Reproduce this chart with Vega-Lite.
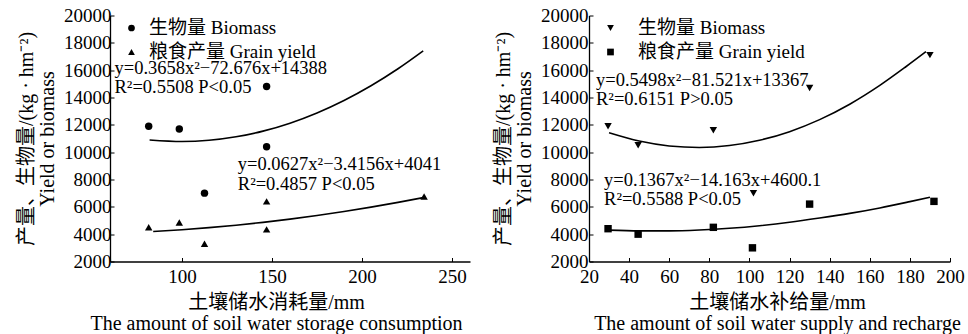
{
  "$schema": "https://vega.github.io/schema/vega-lite/v6.json",
  "background": "white",
  "padding": {"left": 16, "top": 6.5, "right": 2, "bottom": 0},
  "spacing": 23,
  "config": {
    "font": "Liberation Serif, Noto Sans CJK SC",
    "view": {"stroke": null},
    "axis": {
      "grid": false,
      "domainColor": "black",
      "domainWidth": 1.3,
      "tickColor": "black",
      "tickSize": -4,
      "labelColor": "black",
      "labelFont": "Liberation Serif",
      "labelFontSize": 19,
      "labelOverlap": false,
      "labelBound": false,
      "labelFlush": false,
      "titleColor": "black",
      "titleFont": "Liberation Serif, Noto Sans CJK SC",
      "titleFontSize": 20,
      "titleFontWeight": "normal",
      "titleLineHeight": 21
    },
    "legend": {
      "labelFont": "Liberation Serif, Noto Sans CJK SC",
      "labelFontSize": 19,
      "labelColor": "black",
      "labelLimit": 400,
      "symbolFillColor": "black",
      "symbolStrokeColor": "black",
      "rowPadding": 4
    }
  },
  "datasets": {
    "pts": [
      {"panel": "L", "series": "生物量 Biomass", "x": 81.5, "y": 11900},
      {"panel": "L", "series": "生物量 Biomass", "x": 98.5, "y": 11700},
      {"panel": "L", "series": "生物量 Biomass", "x": 112.5, "y": 7000},
      {"panel": "L", "series": "生物量 Biomass", "x": 147, "y": 14800},
      {"panel": "L", "series": "生物量 Biomass", "x": 147, "y": 10400},
      {"panel": "L", "series": "粮食产量 Grain yield", "x": 81.5, "y": 4500},
      {"panel": "L", "series": "粮食产量 Grain yield", "x": 98.5, "y": 4850},
      {"panel": "L", "series": "粮食产量 Grain yield", "x": 112.5, "y": 3300},
      {"panel": "L", "series": "粮食产量 Grain yield", "x": 147, "y": 6400},
      {"panel": "L", "series": "粮食产量 Grain yield", "x": 147, "y": 4350},
      {"panel": "L", "series": "粮食产量 Grain yield", "x": 234.5, "y": 6750},
      {"panel": "R", "series": "生物量 Biomass", "x": 29.5, "y": 11900},
      {"panel": "R", "series": "生物量 Biomass", "x": 44.5, "y": 10500},
      {"panel": "R", "series": "生物量 Biomass", "x": 82, "y": 11600},
      {"panel": "R", "series": "生物量 Biomass", "x": 102, "y": 7000},
      {"panel": "R", "series": "生物量 Biomass", "x": 130, "y": 14700},
      {"panel": "R", "series": "生物量 Biomass", "x": 190, "y": 17100},
      {"panel": "R", "series": "粮食产量 Grain yield", "x": 29.5, "y": 4400},
      {"panel": "R", "series": "粮食产量 Grain yield", "x": 44.5, "y": 4000},
      {"panel": "R", "series": "粮食产量 Grain yield", "x": 82, "y": 4500},
      {"panel": "R", "series": "粮食产量 Grain yield", "x": 101.5, "y": 3000},
      {"panel": "R", "series": "粮食产量 Grain yield", "x": 130, "y": 6200},
      {"panel": "R", "series": "粮食产量 Grain yield", "x": 192, "y": 6400}
    ],
    "curves": [
      {"panel": "L", "curve": "b", "x": 82, "y": 10888},
      {"panel": "L", "curve": "b", "x": 100, "y": 10778},
      {"panel": "L", "curve": "b", "x": 115, "y": 10868},
      {"panel": "L", "curve": "b", "x": 130, "y": 11122},
      {"panel": "L", "curve": "b", "x": 145, "y": 11541},
      {"panel": "L", "curve": "b", "x": 160, "y": 12124},
      {"panel": "L", "curve": "b", "x": 175, "y": 12872},
      {"panel": "L", "curve": "b", "x": 190, "y": 13785},
      {"panel": "L", "curve": "b", "x": 205, "y": 14862},
      {"panel": "L", "curve": "b", "x": 220, "y": 16104},
      {"panel": "L", "curve": "b", "x": 234, "y": 17412},
      {"panel": "L", "curve": "g", "x": 84, "y": 4200},
      {"panel": "L", "curve": "g", "x": 100, "y": 4326},
      {"panel": "L", "curve": "g", "x": 115, "y": 4477},
      {"panel": "L", "curve": "g", "x": 130, "y": 4657},
      {"panel": "L", "curve": "g", "x": 145, "y": 4864},
      {"panel": "L", "curve": "g", "x": 160, "y": 5100},
      {"panel": "L", "curve": "g", "x": 175, "y": 5363},
      {"panel": "L", "curve": "g", "x": 190, "y": 5656},
      {"panel": "L", "curve": "g", "x": 205, "y": 5976},
      {"panel": "L", "curve": "g", "x": 220, "y": 6324},
      {"panel": "L", "curve": "g", "x": 234, "y": 6675},
      {"panel": "R", "curve": "b", "x": 30, "y": 11416},
      {"panel": "R", "curve": "b", "x": 45, "y": 10812},
      {"panel": "R", "curve": "b", "x": 60, "y": 10455},
      {"panel": "R", "curve": "b", "x": 75, "y": 10346},
      {"panel": "R", "curve": "b", "x": 90, "y": 10484},
      {"panel": "R", "curve": "b", "x": 105, "y": 10869},
      {"panel": "R", "curve": "b", "x": 120, "y": 11502},
      {"panel": "R", "curve": "b", "x": 135, "y": 12382},
      {"panel": "R", "curve": "b", "x": 150, "y": 13509},
      {"panel": "R", "curve": "b", "x": 165, "y": 14884},
      {"panel": "R", "curve": "b", "x": 178, "y": 16250},
      {"panel": "R", "curve": "b", "x": 188, "y": 17350},
      {"panel": "R", "curve": "g", "x": 30, "y": 4298},
      {"panel": "R", "curve": "g", "x": 45, "y": 4240},
      {"panel": "R", "curve": "g", "x": 60, "y": 4242},
      {"panel": "R", "curve": "g", "x": 75, "y": 4307},
      {"panel": "R", "curve": "g", "x": 90, "y": 4433},
      {"panel": "R", "curve": "g", "x": 105, "y": 4620},
      {"panel": "R", "curve": "g", "x": 120, "y": 4869},
      {"panel": "R", "curve": "g", "x": 135, "y": 5179},
      {"panel": "R", "curve": "g", "x": 150, "y": 5520},
      {"panel": "R", "curve": "g", "x": 165, "y": 5920},
      {"panel": "R", "curve": "g", "x": 180, "y": 6380},
      {"panel": "R", "curve": "g", "x": 190, "y": 6700}
    ],
    "notes": [
      {"panel": "L", "x": 62.5, "y": 16150, "text": "y=0.3658x²−72.676x+14388"},
      {"panel": "L", "x": 62.5, "y": 14800, "text": "R²=0.5508  P<0.05"},
      {"panel": "L", "x": 131, "y": 9150, "text": "y=0.0627x²−3.4156x+4041"},
      {"panel": "L", "x": 131, "y": 7700, "text": "R²=0.4857  P<0.05"},
      {"panel": "R", "x": 23.5, "y": 15300, "text": "y=0.5498x²−81.521x+13367"},
      {"panel": "R", "x": 23.5, "y": 13900, "text": "R²=0.6151  P>0.05"},
      {"panel": "R", "x": 27.5, "y": 7950, "text": "y=0.1367x²−14.163x+4600.1"},
      {"panel": "R", "x": 27.5, "y": 6600, "text": "R²=0.5588  P<0.05"}
    ]
  },
  "resolve": {"scale": {"shape": "independent", "x": "independent", "y": "independent"}, "legend": {"shape": "independent"}, "axis": {"y": "independent"}},
  "hconcat": [
    {
      "width": 360,
      "height": 246,
      "encoding": {
        "x": {"field": "x", "type": "quantitative", "scale": {"domain": [60, 260], "nice": false, "zero": false},
          "axis": {"values": [100, 150, 200, 250], "title": ["土壤储水消耗量/mm", "The amount of soil water storage consumption"], "labelPadding": 10, "titlePadding": 6, "titleX": 166, "labelOverlap": false}},
        "y": {"field": "y", "type": "quantitative", "scale": {"domain": [2000, 20000], "nice": false, "zero": false},
          "axis": {"values": [2000, 4000, 6000, 8000, 10000, 12000, 14000, 16000, 18000, 20000], "format": "d", "title": ["产量、生物量/(kg · hm⁻²)", "Yield or biomass"], "labelPadding": 3, "titlePadding": 6, "labelOverlap": false}}
      },
      "layer": [
        {
          "data": {"name": "curves"},
          "transform": [{"filter": "datum.panel == 'L'"}],
          "mark": {"type": "line", "color": "black", "strokeWidth": 1.6, "interpolate": "monotone"},
          "encoding": {"detail": {"field": "curve"}}
        },
        {
          "data": {"name": "pts"},
          "transform": [{"filter": "datum.panel == 'L'"}],
          "mark": {"type": "point", "filled": true, "color": "black", "opacity": 1, "size": 55},
          "encoding": {
            "shape": {"field": "series", "type": "nominal",
              "scale": {"domain": ["生物量 Biomass", "粮食产量 Grain yield"], "range": ["circle", "triangle-up"]},
              "legend": {"title": null, "orient": "none", "legendX": 12, "legendY": 3, "symbolSize": 45, "labelOffset": 8}}
          }
        },
        {
          "data": {"name": "notes"},
          "transform": [{"filter": "datum.panel == 'L'"}],
          "mark": {"type": "text", "align": "left", "baseline": "middle", "fontSize": 18.5, "font": "Liberation Serif", "color": "black"},
          "encoding": {"text": {"field": "text"}}
        }
      ]
    },
    {
      "width": 361,
      "height": 246,
      "encoding": {
        "x": {"field": "x", "type": "quantitative", "scale": {"domain": [20, 200], "nice": false, "zero": false},
          "axis": {"values": [20, 40, 60, 80, 100, 120, 140, 160, 180, 200], "title": ["土壤储水补给量/mm", "The amount of soil water supply and recharge"], "labelPadding": 10, "titlePadding": 6, "titleX": 188, "labelOverlap": false}},
        "y": {"field": "y", "type": "quantitative", "scale": {"domain": [2000, 20000], "nice": false, "zero": false},
          "axis": {"values": [2000, 4000, 6000, 8000, 10000, 12000, 14000, 16000, 18000, 20000], "format": "d", "title": ["产量、生物量/(kg · hm⁻²)", "Yield or biomass"], "labelPadding": 5, "titlePadding": 6, "labelOverlap": false}}
      },
      "layer": [
        {
          "data": {"name": "curves"},
          "transform": [{"filter": "datum.panel == 'R'"}],
          "mark": {"type": "line", "color": "black", "strokeWidth": 1.6, "interpolate": "monotone"},
          "encoding": {"detail": {"field": "curve"}}
        },
        {
          "data": {"name": "pts"},
          "transform": [{"filter": "datum.panel == 'R'"}],
          "mark": {"type": "point", "filled": true, "color": "black", "opacity": 1, "size": 55},
          "encoding": {
            "shape": {"field": "series", "type": "nominal",
              "scale": {"domain": ["生物量 Biomass", "粮食产量 Grain yield"], "range": ["triangle-down", "square"]},
              "legend": {"title": null, "orient": "none", "legendX": 12, "legendY": 3, "symbolSize": 45, "labelOffset": 18}}
          }
        },
        {
          "data": {"name": "notes"},
          "transform": [{"filter": "datum.panel == 'R'"}],
          "mark": {"type": "text", "align": "left", "baseline": "middle", "fontSize": 18.5, "font": "Liberation Serif", "color": "black"},
          "encoding": {"text": {"field": "text"}}
        }
      ]
    }
  ]
}
